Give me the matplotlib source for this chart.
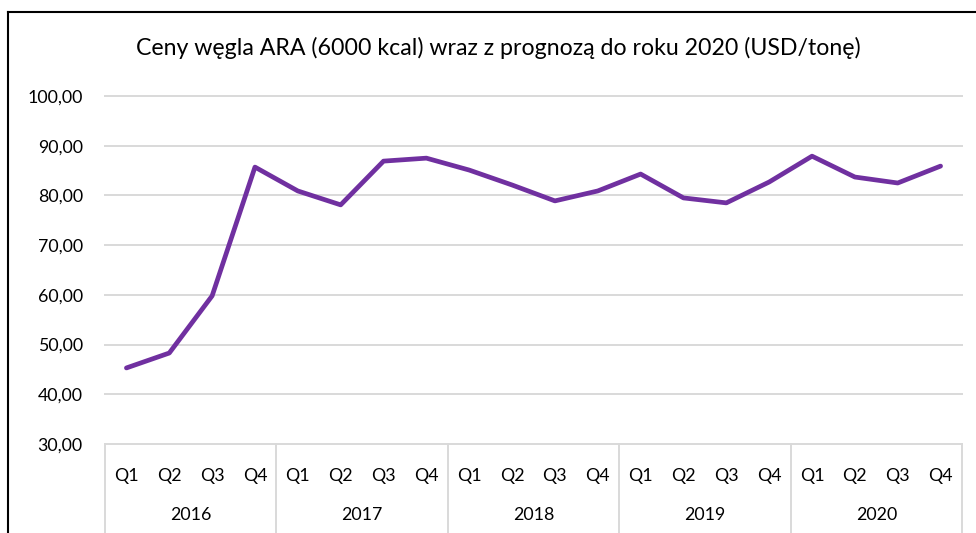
import matplotlib
matplotlib.use("Agg")
import matplotlib.pyplot as plt
from matplotlib.lines import Line2D

years = ["2016", "2017", "2018", "2019", "2020"]
quarters = ["Q1", "Q2", "Q3", "Q4"]
prices = [45.3, 48.3, 59.8, 85.7,
          80.9, 78.1, 86.9, 87.5,
          85.1, 82.1, 78.9, 80.9,
          84.3, 79.5, 78.5, 82.7,
          87.9, 83.7, 82.5, 85.9]
yticks = [30, 40, 50, 60, 70, 80, 90, 100]
title = "Ceny węgla ARA (6000 kcal) wraz z prognozą do roku 2020 (USD/tonę)"

plt.rcParams['font.family'] = ['Lato', 'DejaVu Sans']
W, H = 976, 533
fig = plt.figure(figsize=(W / 100, H / 100), dpi=100)
L, R, T, B = 105, 962, 96, 444
ax = fig.add_axes([L / W, 1 - B / H, (R - L) / W, (B - T) / H])

x = list(range(len(prices)))
ax.plot(x, prices, color="#7030A0", lw=3.4, solid_joinstyle="round", solid_capstyle="round", zorder=3)
ax.set_xlim(-0.5, len(prices) - 0.5)
ax.set_ylim(30, 100)
ax.set_yticks(yticks)
ax.set_yticklabels([f"{v:.2f}".replace(".", ",") for v in yticks], fontsize=12.8, color="#000000")
for v in yticks:
    ax.axhline(v, color="#d9d9d9", lw=1.4, zorder=1, clip_on=False)
for s in ax.spines.values():
    s.set_visible(False)
ax.tick_params(axis="y", length=0, pad=16)
ax.set_xticks(x)
ax.set_xticklabels(quarters * len(years), fontsize=12.8)
ax.tick_params(axis="x", length=0, pad=17)

tr = ax.get_xaxis_transform()
ybot = -(H - B) / (B - T)
for k in range(len(years) + 1):
    xs = 4 * k - 0.5
    ax.add_line(Line2D([xs, xs], [0, ybot - 0.02], transform=tr, color="#d9d9d9", lw=1.4, clip_on=False))
for k, yr in enumerate(years):
    ax.text(4 * k + 1.5, -(515 - B) / (B - T), yr, transform=tr, ha="center", va="center", fontsize=12.8)

fig.text(0.5 * (135 + 862) / W, 1 - 48 / H, title, ha="center", va="center", fontsize=16.7)

fig.add_artist(Line2D([8 / W, 8 / W], [0, 1 - 12 / H], transform=fig.transFigure, color="black", lw=1.5))
fig.add_artist(Line2D([8 / W, 1], [1 - 12 / H, 1 - 12 / H], transform=fig.transFigure, color="black", lw=1.5))

fig.savefig("out.png", dpi=100)
